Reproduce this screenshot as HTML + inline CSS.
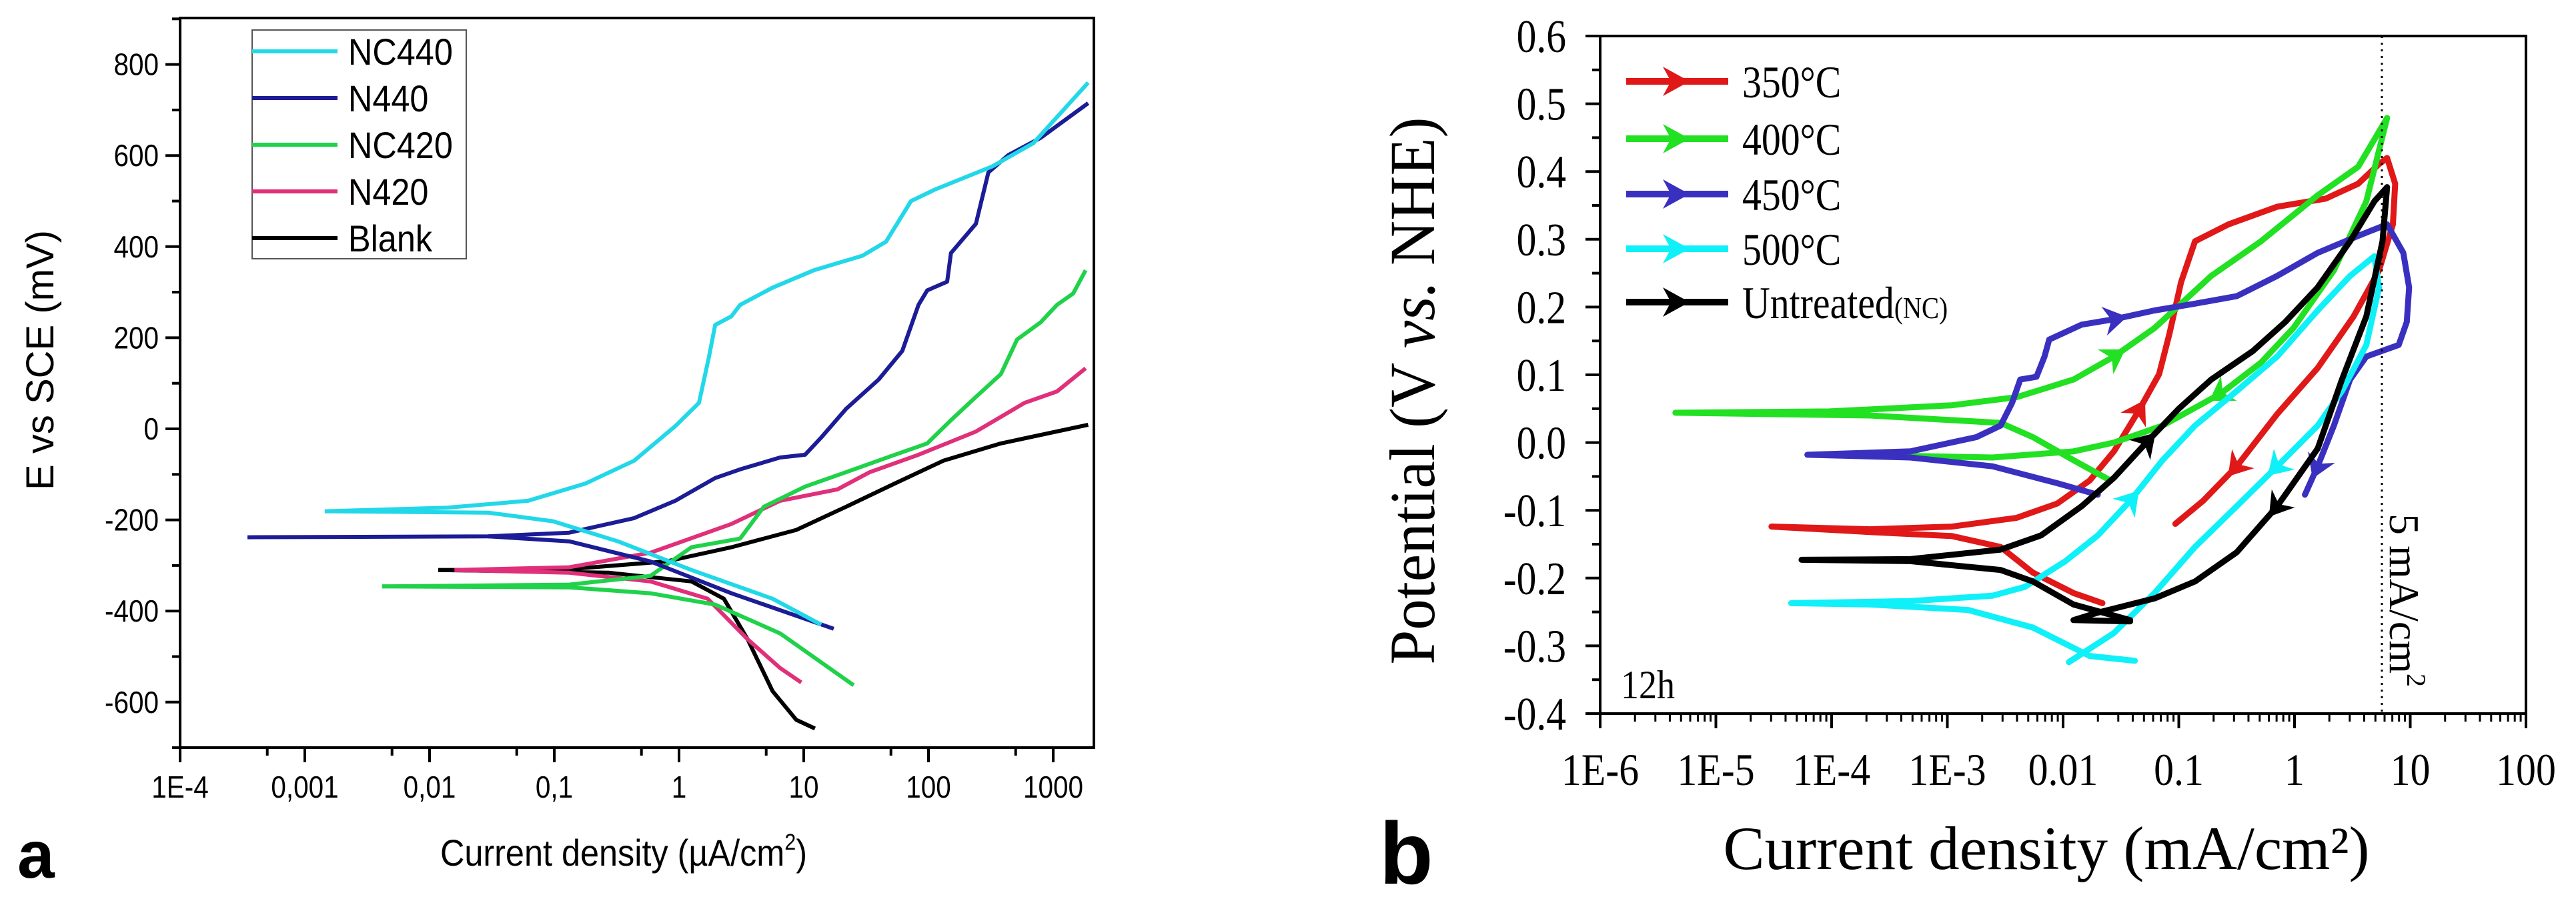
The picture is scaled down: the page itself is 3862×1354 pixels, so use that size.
<!DOCTYPE html>
<html><head><meta charset="utf-8"><style>
html,body{margin:0;padding:0;background:#fff}
svg{display:block}
</style></head><body>
<svg id="fig" width="3862" height="1354" viewBox="0 0 3862 1354" xmlns="http://www.w3.org/2000/svg">
<g id="chartA"></g>
<g id="chartB"></g>
</svg>
<script>
// ===== Chart A data (log10 current µA/cm², potential mV) =====
const aSeriesNames = ["NC440","N440","NC420","N420","Blank"];
const aColors = ["#22d8e8","#1c1c96","#1fd24a","#e0307a","#000000"];
const aXTickLabels = ["1E-4","0,001","0,01","0,1","1","10","100","1000"];
const aYTickLabels = ["-600","-400","-200","0","200","400","600","800"];
const aYTickValues = [-600,-400,-200,0,200,400,600,800];
const nc440AnX = [-2.84,-1.86,-1.21,-0.75,-0.36,-0.03,0.16,0.24,0.29,0.42,0.49,0.75,1.08,1.47,1.66,1.86,2.05,2.51,2.84,3.28];
const nc440AnY = [-181,-173,-158,-120,-70,6,57,158,228,247,272,310,348,380,411,500,525,576,627,760];
const nc440CaX = [-2.84,-1.53,-1.01,-0.49,0.10,0.75,1.14];
const nc440CaY = [-181,-184,-203,-247,-310,-373,-430];
const n440AnX = [-3.46,-1.53,-0.88,-0.36,-0.03,0.29,0.49,0.81,1.01,1.14,1.34,1.60,1.79,1.92,1.99,2.15,2.18,2.38,2.48,2.64,2.90,3.28];
const n440AnY = [-238,-236,-228,-196,-158,-108,-89,-63,-57,-19,44,108,171,272,304,323,386,450,563,601,639,715];
const n440CaX = [-1.53,-0.88,-0.23,0.42,1.24];
const n440CaY = [-236,-247,-291,-361,-439];
const nc420AnX = [-2.38,-0.88,-0.23,0.10,0.49,0.68,1.01,1.34,1.73,1.99,2.18,2.38,2.58,2.71,2.90,3.03,3.16,3.26];
const nc420AnY = [-346,-342,-323,-260,-241,-171,-127,-95,-57,-32,19,70,120,196,234,272,297,348];
const nc420CaX = [-2.38,-0.88,-0.23,0.29,0.81,1.40];
const nc420CaY = [-346,-348,-361,-386,-449,-563];
const n420AnX = [-1.80,-0.88,-0.23,0.42,0.81,1.27,1.53,1.92,2.38,2.77,3.03,3.26];
const n420AnY = [-310,-304,-272,-209,-158,-133,-95,-57,-6,57,82,133];
const n420CaX = [-1.80,-0.88,-0.23,0.23,0.55,0.81,0.98];
const n420CaY = [-310,-316,-335,-373,-462,-525,-557];
const blankAnX = [-1.93,-0.88,-0.10,0.42,0.94,1.34,1.73,2.12,2.58,3.28];
const blankAnY = [-310,-308,-291,-260,-222,-171,-120,-70,-32,9];
const blankCaX = [-1.93,-0.56,0.10,0.36,0.55,0.75,0.94,1.09];
const blankCaY = [-310,-316,-335,-373,-462,-576,-639,-658];

// ===== Chart B data (log10 current mA/cm², potential V) =====
const bSeriesNames = ["350°C","400°C","450°C","500°C","Untreated"];
const bColors = ["#e01818","#22e022","#3a30c0","#10f0f8","#000000"];
const bXTickLabels = ["1E-6","1E-5","1E-4","1E-3","0.01","0.1","1","10","100"];
const bYTickLabels = ["-0.4","-0.3","-0.2","-0.1","0.0","0.1","0.2","0.3","0.4","0.5","0.6"];
const bYTickValues = [-0.4,-0.3,-0.2,-0.1,0,0.1,0.2,0.3,0.4,0.5,0.6];
const redX = [-1.66,-1.91,-2.26,-2.54,-2.96,-3.67,-4.52,-3.67,-2.96,-2.40,-2.05,-1.77,-1.56,-1.35,-1.17,-1.08,-0.98,-0.86,-0.57,-0.15,0.27,0.55,0.73,0.80,0.87,0.85,0.73,0.51,0.20,-0.15,-0.50,-0.79,-1.03];
const redY = [-0.237,-0.222,-0.192,-0.154,-0.138,-0.132,-0.124,-0.128,-0.124,-0.111,-0.090,-0.056,-0.013,0.046,0.101,0.161,0.237,0.297,0.322,0.348,0.360,0.382,0.411,0.420,0.382,0.322,0.254,0.186,0.110,0.042,-0.035,-0.086,-0.120];
const redArrows = [13,30];
const greenX = [-1.59,-1.91,-2.26,-2.54,-3.67,-5.35,-4.02,-2.96,-2.40,-1.91,-1.56,-1.21,-0.72,-0.29,0.20,0.55,0.80,0.62,0.34,-0.01,-0.29,-0.64,-1.14,-1.56,-1.91,-2.61,-3.53];
const greenY = [-0.056,-0.026,0.008,0.029,0.040,0.044,0.046,0.055,0.067,0.093,0.127,0.169,0.246,0.297,0.365,0.407,0.479,0.356,0.254,0.169,0.118,0.072,0.025,0.000,-0.013,-0.022,-0.019];
const greenArrows = [10,21];
const blueX = [-1.70,-2.05,-2.61,-3.32,-4.21,-3.32,-2.75,-2.54,-2.44,-2.37,-2.23,-2.16,-2.12,-1.84,-1.56,-1.21,-0.86,-0.50,-0.15,0.20,0.55,0.80,0.94,0.99,0.97,0.90,0.62,0.48,0.34,0.20,0.09];
const blueY = [-0.077,-0.060,-0.035,-0.022,-0.018,-0.013,0.008,0.025,0.059,0.093,0.097,0.127,0.152,0.174,0.182,0.195,0.205,0.216,0.246,0.280,0.305,0.322,0.280,0.229,0.178,0.144,0.127,0.093,0.025,-0.035,-0.077];
const blueArrows = [14,29];
const cyanX = [-1.38,-1.77,-2.26,-2.82,-3.67,-4.35,-3.32,-2.61,-2.33,-1.98,-1.70,-1.42,-1.14,-0.86,-0.50,-0.15,0.20,0.48,0.69,0.73,0.62,0.41,0.20,-0.15,-0.50,-0.86,-1.21,-1.56,-1.95];
const cyanY = [-0.322,-0.315,-0.273,-0.247,-0.239,-0.237,-0.234,-0.226,-0.213,-0.175,-0.137,-0.086,-0.026,0.025,0.076,0.127,0.195,0.246,0.275,0.229,0.144,0.076,0.025,-0.035,-0.094,-0.154,-0.222,-0.281,-0.324];
const cyanArrows = [11,23];
const blackX = [-1.42,-1.91,-2.26,-2.54,-3.32,-4.26,-3.32,-2.54,-2.19,-1.84,-1.56,-1.28,-1.00,-0.72,-0.36,-0.08,0.20,0.48,0.69,0.80,0.76,0.62,0.41,0.20,-0.15,-0.50,-0.86,-1.21,-1.70,-1.91,-1.42];
const blackY = [-0.262,-0.239,-0.205,-0.188,-0.175,-0.173,-0.172,-0.158,-0.137,-0.094,-0.052,0.000,0.050,0.093,0.135,0.178,0.229,0.297,0.356,0.377,0.297,0.186,0.093,-0.009,-0.094,-0.162,-0.205,-0.230,-0.251,-0.262,-0.264];
const blackArrows = [11,24];
const dottedLineX = 0.755;

const NS = "http://www.w3.org/2000/svg";
function mk(tag, attrs, parent){const e=document.createElementNS(NS,tag);for(const k in attrs)e.setAttribute(k,attrs[k]);parent.appendChild(e);return e;}

// ===== Chart A =====
(function(){
const g=document.getElementById('chartA');
const L=270,R=1640,T=27,B=1121;
const xA=v=>L+(v+4)*187;
const yA=v=>643-v*0.683;
const sans='"Liberation Sans", Arial, sans-serif';
const sets=[[nc440AnX,nc440AnY,nc440CaX,nc440CaY],[n440AnX,n440AnY,n440CaX,n440CaY],[nc420AnX,nc420AnY,nc420CaX,nc420CaY],[n420AnX,n420AnY,n420CaX,n420CaY],[blankAnX,blankAnY,blankCaX,blankCaY]];
const order=[4,3,2,1,0];
order.forEach(i=>{
  const s=sets[i];
  [[s[0],s[1]],[s[2],s[3]]].forEach((p,j)=>{
    const d=p[0].map((x,k)=>(k?'L':'M')+xA(x).toFixed(1)+','+yA(p[1][k]).toFixed(1)).join('');
    const e=mk('path',{d:d,fill:'none',stroke:aColors[i],'stroke-width':6,'stroke-linejoin':'round'},g);
    
    
  });
});
const fr=mk('rect',{x:L,y:T,width:R-L,height:B-T,fill:'none',stroke:'#000','stroke-width':4},g);


for(let v=-700;v<=900;v+=100){
  const y=yA(v); if(y<T-1||y>B+1)continue;
  const major=v%200===0;
  const t=mk('line',{x1:L,x2:L-(major?22:12),y1:y,y2:y,stroke:'#000','stroke-width':4},g);
  
  
}
aYTickValues.forEach((v,i)=>{
  const t=mk('text',{x:L-32,y:yA(v)+16,'text-anchor':'end','font-family':sans,'font-size':46,transform:`translate(${L-32},0) scale(0.88,1) translate(${-(L-32)},0)`},g);
  t.textContent=aYTickLabels[i];
  
  
});
for(let d=-4;d<=3;d++){
  [[d,22],[d+Math.log10(5),12]].forEach(([v,len])=>{
    const x=xA(v); if(x>R)return;
    const t=mk('line',{x1:x,x2:x,y1:B,y2:B+len,stroke:'#000','stroke-width':4},g);
    
    
  });
}
aXTickLabels.forEach((lab,i)=>{
  const x=xA(i-4);
  const t=mk('text',{x:x,y:1196,'text-anchor':'middle','font-family':sans,'font-size':46,transform:`translate(${x},0) scale(0.88,1) translate(${-x},0)`},g);
  t.textContent=lab;
  
  
});
const xt=mk('text',{x:935,y:1298,'text-anchor':'middle','font-family':sans,'font-size':56,transform:'translate(935,0) scale(0.9,1) translate(-935,0)'},g);
xt.innerHTML='Current density (µA/cm<tspan font-size="34" dy="-24">2</tspan><tspan dy="24">)</tspan>';


const yt=mk('text',{x:0,y:0,'text-anchor':'middle','font-family':sans,'font-size':58,transform:'translate(80,540) rotate(-90)'},g);
yt.textContent='E vs SCE (mV)';


const pl=mk('text',{x:26,y:1316,'font-family':sans,'font-size':100,'font-weight':'bold'},g);
pl.textContent='a';


const lg=mk('g',{},g);


const lb=mk('rect',{x:378,y:45,width:321,height:343,fill:'#fff',stroke:'#555','stroke-width':2},lg);


aSeriesNames.forEach((n,i)=>{
  const y=77+i*70;
  const ln=mk('line',{x1:378,x2:506,y1:y,y2:y,stroke:aColors[i],'stroke-width':6},lg);
  
  
  const t=mk('text',{x:522,y:y+20,'font-family':sans,'font-size':56,transform:`translate(522,0) scale(0.9,1) translate(-522,0)`},lg);
  t.textContent=n;
  
  
});
})();

// ===== Chart B =====
(function(){
const g=document.getElementById('chartB');
const L=2399,R=3787,T=54,B=1070;
const xB=v=>L+(v+6)*173.5;
const yB=v=>T+(0.6-v)*1016;
const serif='"Liberation Serif", "Times New Roman", serif';
const sets=[[redX,redY,redArrows],[greenX,greenY,greenArrows],[blueX,blueY,blueArrows],[cyanX,cyanY,cyanArrows],[blackX,blackY,blackArrows]];
sets.forEach((s,i)=>{
  const d=s[0].map((x,k)=>(k?'L':'M')+xB(x).toFixed(1)+','+yB(s[1][k]).toFixed(1)).join('');
  const e=mk('path',{d:d,fill:'none',stroke:bColors[i],'stroke-width':9,'stroke-linejoin':'round','stroke-linecap':'round'},g);
  
  
  s[2].forEach(k=>{
    const x=xB(s[0][k]),y=yB(s[1][k]);
    const dx=xB(s[0][k+1])-xB(s[0][k-1]),dy=yB(s[1][k+1])-yB(s[1][k-1]);
    const a=Math.atan2(dy,dx)*180/Math.PI;
    const ar=mk('path',{d:'M20,0 L-15,-22 L-4,0 L-15,22 Z',fill:bColors[i],transform:`translate(${x},${y}) rotate(${a})`},g);
    
    
  });
});
const dl=mk('line',{x1:xB(dottedLineX),x2:xB(dottedLineX),y1:T,y2:B,stroke:'#000','stroke-width':3,'stroke-dasharray':'3,7'},g);


const dlt=mk('text',{x:0,y:0,'font-family':serif,'font-size':64,transform:`translate(${xB(dottedLineX)+12},770) rotate(90)`},g);
dlt.innerHTML='5 mA/cm<tspan font-size="40" dy="-26">2</tspan>';


const fr=mk('rect',{x:L,y:T,width:R-L,height:B-T,fill:'none',stroke:'#000','stroke-width':4},g);


for(let k=0;k<=20;k++){
  const v=-0.4+k*0.05, y=yB(v), major=k%2===0;
  const t=mk('line',{x1:L,x2:L-(major?22:12),y1:y,y2:y,stroke:'#000','stroke-width':4},g);
  
  
}
bYTickValues.forEach((v,i)=>{
  const t=mk('text',{x:2348,y:yB(v)+24,'text-anchor':'end','font-family':serif,'font-size':70,transform:'translate(2348,0) scale(0.85,1) translate(-2348,0)'},g);
  t.textContent=bYTickLabels[i];
  
  
});
for(let d=-6;d<=2;d++){
  const t=mk('line',{x1:xB(d),x2:xB(d),y1:B,y2:B+22,stroke:'#000','stroke-width':4},g);
  
  
  if(d<2)for(let m=2;m<=9;m++){
    const x=xB(d+Math.log10(m));
    const mt=mk('line',{x1:x,x2:x,y1:B,y2:B+12,stroke:'#000','stroke-width':3},g);
    
    
  }
}
bXTickLabels.forEach((lab,i)=>{
  const x=xB(i-6);
  const t=mk('text',{x:x,y:1177,'text-anchor':'middle','font-family':serif,'font-size':68,transform:`translate(${x},0) scale(0.88,1) translate(${-x},0)`},g);
  t.textContent=lab;
  
  
});
const xt=mk('text',{x:3068,y:1303,'text-anchor':'middle','font-family':serif,'font-size':92,textLength:969,lengthAdjust:'spacingAndGlyphs'},g);
xt.textContent='Current density (mA/cm²)';


const yt=mk('text',{x:0,y:0,'text-anchor':'middle','font-family':serif,'font-size':96,textLength:821,lengthAdjust:'spacingAndGlyphs',transform:'translate(2150,586) rotate(-90)'},g);
yt.innerHTML='Potential (V <tspan font-style="italic">vs.</tspan> NHE)';


const pl=mk('text',{x:2068,y:1325,'font-family':'"Liberation Sans", Arial, sans-serif','font-size':132,'font-weight':'bold'},g);
pl.textContent='b';


const h=mk('text',{x:2430,y:1047,'font-family':serif,'font-size':60,transform:'translate(2430,0) scale(0.9,1) translate(-2430,0)'},g);
h.textContent='12h';


const lg=mk('g',{},g);


bSeriesNames.forEach((n,i)=>{
  const y=[122,208,291,373,453][i];
  const ln=mk('line',{x1:2438,x2:2591,y1:y,y2:y,stroke:bColors[i],'stroke-width':10},lg);
  
  
  const ar=mk('path',{d:`M2533,${y} L2493,${y-22} L2505,${y} L2493,${y+22} Z`,fill:bColors[i]},lg);
  
  
  const t=mk('text',{x:2612,y:y+24,'font-family':serif,'font-size':68,transform:'translate(2612,0) scale(0.85,1) translate(-2612,0)'},lg);
  if(i===4) t.innerHTML='Untreated<tspan font-size="46">(NC)</tspan>'; else t.textContent=n;
  
  
});
})();
</script>
</body></html>
